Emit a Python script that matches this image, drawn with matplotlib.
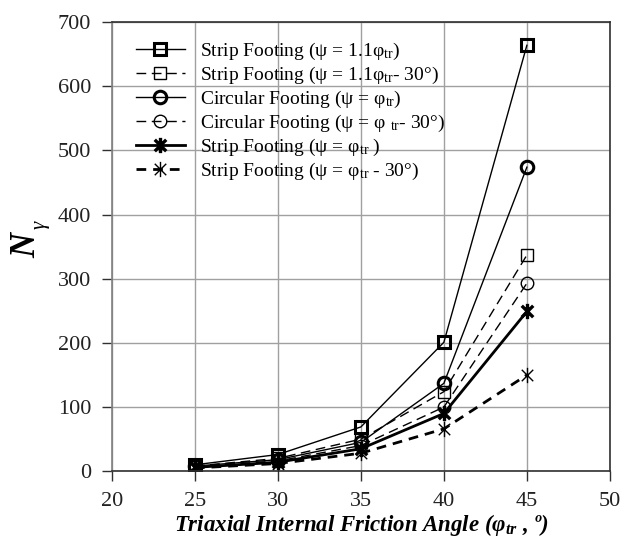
import matplotlib
matplotlib.use("Agg")
import matplotlib.pyplot as plt
from matplotlib.path import Path

plt.rcParams['font.family'] = ['Liberation Serif', 'DejaVu Serif']
plt.rcParams['mathtext.fontset'] = 'custom'
plt.rcParams['mathtext.rm'] = 'Liberation Serif'
plt.rcParams['mathtext.it'] = 'Liberation Serif:style=italic'
plt.rcParams['mathtext.bf'] = 'Liberation Serif:weight=bold'
plt.rcParams['mathtext.bfit'] = 'Liberation Serif:style=italic:weight=bold'

angles = [25, 30, 35, 40, 45]
strip_11 = [10, 26, 69, 201, 664]
strip_11_30 = [8, 20, 50, 124, 337]
circ = [8, 18, 45, 137, 474]
circ_30 = [7, 16, 40, 100, 293]
strip = [6, 14, 35, 90, 249]
strip_30 = [5, 12, 28, 66, 150]

labels = [
    'Strip Footing (ψ = 1.1φ$_{\\mathrm{tr}}$)',
    'Strip Footing (ψ = 1.1φ$_{\\mathrm{tr}}$- 30°)',
    'Circular Footing (ψ = φ$_{\\mathrm{tr}}$)',
    'Circular Footing (ψ = φ $_{\\mathrm{tr}}$- 30°)',
    'Strip Footing (ψ = φ$_{\\mathrm{tr}}$ )',
    'Strip Footing (ψ = φ$_{\\mathrm{tr}}$ - 30°)',
]

star = Path([(0, -1), (0, 1), (-0.75, -0.75), (0.75, 0.75), (-0.75, 0.75), (0.75, -0.75)],
            [Path.MOVETO, Path.LINETO, Path.MOVETO, Path.LINETO, Path.MOVETO, Path.LINETO])

fig = plt.figure(figsize=(6.32, 5.41), dpi=100)
ax = fig.add_axes([0.177, 0.129, 0.788, 0.830])

ax.plot(angles, strip_11, '-', color='black', lw=1.0, marker='s', ms=9, mew=2.2,
        mfc='none', mec='black', label=labels[0])
ax.plot(angles, strip_11_30, '--', color='black', lw=1.0, dashes=(7, 4), marker='s', ms=9, mew=1.0,
        mfc='none', mec='black', label=labels[1])
ax.plot(angles, circ, '-', color='black', lw=1.0, marker='o', ms=9, mew=2.2,
        mfc='none', mec='black', label=labels[2])
ax.plot(angles, circ_30, '--', color='black', lw=1.0, dashes=(7, 4), marker='o', ms=9, mew=1.0,
        mfc='none', mec='black', label=labels[3])
ax.plot(angles, strip, '-', color='black', lw=2.0, marker=star, ms=11, mew=2.4,
        mec='black', label=labels[4])
ax.plot(angles, strip_30, '--', color='black', lw=2.0, dashes=(3.5, 2.5), marker=star, ms=11, mew=1.0,
        mec='black', label=labels[5])

ax.set_xlim(20, 50)
ax.set_ylim(0, 700)
ax.set_xticks([20, 25, 30, 35, 40, 45, 50])
ax.set_yticks(range(0, 701, 100))
ax.grid(True, color='#a0a0a0', lw=1.0)
ax.set_axisbelow(True)
for s in ax.spines.values():
    s.set_color('#303030')
    s.set_linewidth(1.2)
ax.spines['left'].set_color('#808080')
ax.tick_params(direction='out', length=7, width=1.0, color='#303030', labelsize=16,
               labelcolor='#222222')
ax.tick_params(axis='y', pad=8)
ax.tick_params(axis='x', pad=8)

# y label: bold italic N with italic gamma subscript
fig.text(27 / 632, 1 - 245 / 541, 'N', rotation=90, fontsize=25, fontweight='bold',
         fontstyle='italic', ha='center', va='center')
fig.text(40 / 632, 1 - 225 / 541, 'γ', rotation=90, fontsize=15, fontstyle='italic',
         ha='center', va='center')

ax.set_xlabel('Triaxial Internal Friction Angle (φ$_{\\mathbfit{tr}}$ , º)', fontsize=16.5,
              fontstyle='italic', fontweight='bold', labelpad=1)

leg = ax.legend(loc='upper left', bbox_to_anchor=(0.025, 0.985), frameon=False, fontsize=14,
                handlelength=2.5, labelspacing=0.15, handletextpad=0.8, borderaxespad=0.2)

fig.savefig('out.png', dpi=100, facecolor='white')
